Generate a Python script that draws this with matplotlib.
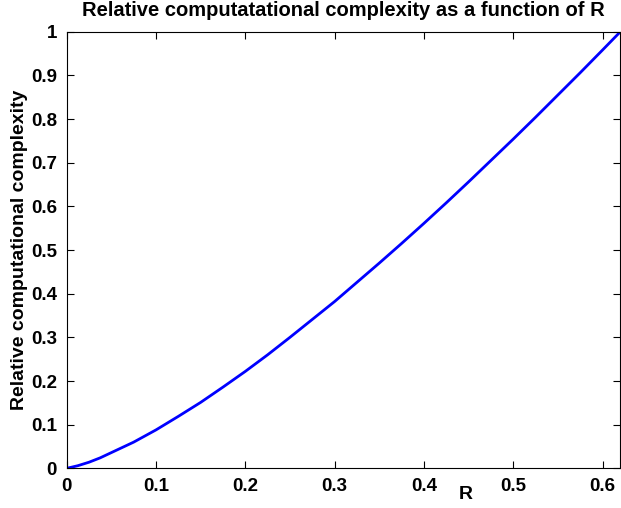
import matplotlib.pyplot as plt

# values
r_vals = [0.0, 0.0125, 0.025, 0.0375, 0.05, 0.075, 0.1, 0.125, 0.15, 0.175, 0.2, 0.225,
          0.25, 0.275, 0.3, 0.325, 0.35, 0.375, 0.4, 0.425, 0.45, 0.475, 0.5, 0.525,
          0.55, 0.575, 0.6, 0.62]
complexity = [0.0, 0.006, 0.014, 0.024, 0.036, 0.060, 0.088, 0.119, 0.151, 0.186, 0.222, 0.260,
              0.300, 0.341, 0.382, 0.426, 0.470, 0.515, 0.561, 0.608, 0.656, 0.705, 0.754, 0.804,
              0.855, 0.906, 0.958, 1.0]

x_ticks = [0, 0.1, 0.2, 0.3, 0.4, 0.5, 0.6]
x_tick_labels = ['0', '0.1', '0.2', '0.3', '0.4', '0.5', '0.6']
y_ticks = [0, 0.1, 0.2, 0.3, 0.4, 0.5, 0.6, 0.7, 0.8, 0.9, 1]
y_tick_labels = ['0', '0.1', '0.2', '0.3', '0.4', '0.5', '0.6', '0.7', '0.8', '0.9', '1']

plt.rcParams['font.family'] = ['Liberation Sans', 'DejaVu Sans']
plt.rcParams['font.weight'] = 'bold'

fig = plt.figure(figsize=(6.21, 5.08), dpi=100)
ax = fig.add_axes([0.1074, 0.0781, 0.8916, 0.8595])

ax.plot(r_vals, complexity, color='#0000ff', linewidth=2)

ax.set_xlim(0, 0.62)
ax.set_ylim(0, 1)
ax.set_xticks(x_ticks)
ax.set_xticklabels(x_tick_labels, fontweight='bold')
ax.set_yticks(y_ticks)
ax.set_yticklabels(y_tick_labels, fontweight='bold')
ax.tick_params(direction='in', length=5, width=0.8, labelsize=13.5,
               top=True, right=True)
ax.tick_params(axis='x', pad=7)
ax.tick_params(axis='y', pad=7)

ax.set_title('Relative computatational complexity as a function of R',
             fontsize=14.5, fontweight='bold', pad=11)
ax.set_ylabel('Relative computational complexity', fontsize=14, fontweight='bold')
ax.yaxis.set_label_coords(-0.07, 0.5)
ax.xaxis.label.set_va('center')
ax.set_xlabel('R', fontsize=14, fontweight='bold')
ax.xaxis.set_label_coords(0.72, -0.059)

fig.savefig('out.png', dpi=100)
